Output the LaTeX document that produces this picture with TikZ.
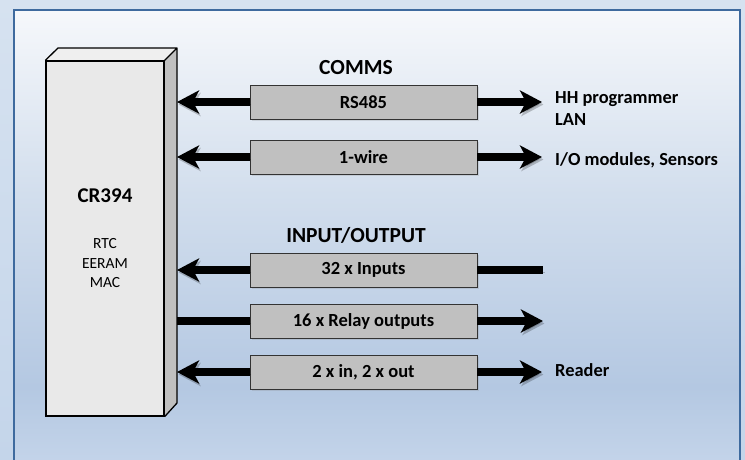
\documentclass[tikz,border=0pt]{standalone}
\usepackage{fontspec}
\setmainfont{Carlito}
\usetikzlibrary{arrows.meta,calc,shadows}
\definecolor{outerA}{HTML}{D6E2F0}
\definecolor{outerB}{HTML}{C4D5EA}
\definecolor{pTop}{HTML}{F6F8FB}
\definecolor{pMid}{HTML}{D2DEED}
\definecolor{pLow}{HTML}{B4C8E2}
\definecolor{pBot}{HTML}{C5D5EA}
\definecolor{frameblue}{HTML}{3E6A9E}
\definecolor{boxgray}{HTML}{C0C0C0}
\definecolor{frontgray}{HTML}{E9E9E9}
\definecolor{topgray}{HTML}{EFEFEF}
\definecolor{sidegray}{HTML}{C0C0C0}
\pgfdeclareverticalshading{panelshade}{100bp}{color(0bp)=(pBot); color(25bp)=(pBot); color(34bp)=(pLow); color(55bp)=(pMid); color(75bp)=(pTop); color(100bp)=(pTop)}
\begin{document}
\begin{tikzpicture}[x=1pt,y=-1pt,
  busbox/.style={draw=black!80, line width=0.9pt, fill=boxgray, minimum width=227pt, minimum height=34pt, inner sep=0pt, font=\fontsize{18.5}{22}\selectfont\bfseries,
    drop shadow={opacity=0.22, shadow xshift=1.5pt, shadow yshift=-2pt}},
  bus/.style={line width=8.5pt, draw=black,
    preaction={draw=black, opacity=0.22, transform canvas={xshift=1.5pt, yshift=-2.5pt}}},
  tip/.style={-{Stealth[length=22pt 0, width=23pt 0, inset=6pt]}},
  head/.style={font=\fontsize{21.5}{26}\selectfont\bfseries, inner sep=0pt},
  side/.style={font=\fontsize{18.4}{22}\selectfont\bfseries, inner sep=0pt, align=left, anchor=west},
  inner/.style={font=\fontsize{15.5}{19.5}\selectfont, inner sep=0pt, align=center}
]
\useasboundingbox (0,0) rectangle (745,459);
% background
\shade[top color=outerA, bottom color=outerB] (0,0) rectangle (745,459);
\shade[shading=panelshade] (14,10) rectangle (740,470);
\draw[frameblue, line width=2.6pt] (14,475) -- (14,10) -- (740,10) -- (740,475);

% 3D box CR394
\fill[topgray] (46,61) -- (58,48) -- (177,48) -- (164,61) -- cycle;
\fill[sidegray] (164,61) -- (177,48) -- (177,403) -- (164,416) -- cycle;
\node[draw=black, line width=1.3pt, fill=frontgray, minimum width=118pt, minimum height=355pt, inner sep=0pt] (cr) at (105,238.5) {};
\draw[line width=1.3pt, line join=round] (cr.north west) -- (58,48) -- (177,48) -- (164,61)
  (177,48) -- (177,403) -- (cr.south east);
\coordinate (side) at (177,48);
\node[font=\fontsize{21}{25}\selectfont\bfseries, inner sep=0pt] (crname) at (105,196) {CR394};
\node[inner] (crfeat) at (105,263.5) {RTC\\EERAM\\MAC};

% headings
\node[head] (comms) at (356,68) {COMMS};
\node[head] (io) at (356,235) {INPUT/OUTPUT};

% bus boxes
\node[busbox] (rs) at (363.5,102) {RS485};
\node[busbox] (ow) at (363.5,157) {1-wire};
\node[busbox] (in) at (363.5,270) {32 x Inputs};
\node[busbox] (rel) at (363.5,321) {16 x Relay outputs};
\node[busbox] (dio) at (363.5,372) {2 x in, 2 x out};

% right end points
\coordinate (rsR) at (542,102);
\coordinate (owR) at (542,157);
\coordinate (inR) at (543,270);
\coordinate (relR) at (543,321);
\coordinate (dioR) at (542,372);

% connectors
\draw[bus,tip] (rs.west) -- (side |- rs.west);
\draw[bus,tip] (rs.east) -- (rsR);
\draw[bus,tip] (ow.west) -- (side |- ow.west);
\draw[bus,tip] (ow.east) -- (owR);
\draw[bus,tip] (in.west) -- (side |- in.west);
\draw[bus] (in.east) -- (inR);
\draw[bus] (rel.west) -- (side |- rel.west);
\draw[bus,tip] (rel.east) -- (relR);
\draw[bus,tip] (dio.west) -- (side |- dio.west);
\draw[bus,tip] (dio.east) -- (dioR);

% side labels
\node[side] (hh) at (555,109) {HH programmer\\LAN};
\node[side] (iom) at (555,160) {I/O modules, Sensors};
\node[side] (reader) at (555,370) {Reader};
\end{tikzpicture}
\end{document}
